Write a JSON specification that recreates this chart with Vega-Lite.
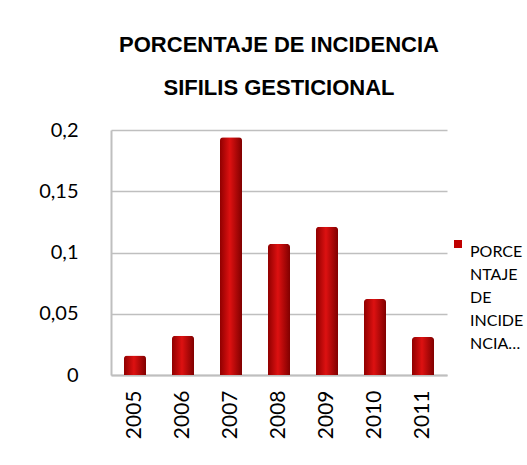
{
  "$schema": "https://vega.github.io/schema/vega-lite/v6.json",
  "autosize": {"type": "none"},
  "width": 336,
  "height": 245,
  "padding": {"left": 111, "top": 130, "right": 80, "bottom": 90},
  "background": "white",
  "title": {
    "text": ["PORCENTAJE DE INCIDENCIA", "SIFILIS GESTICIONAL"],
    "font": "Liberation Sans",
    "fontSize": 22,
    "fontWeight": "bold",
    "color": "#000000",
    "lineHeight": 43,
    "anchor": "middle",
    "offset": 20
  },
  "data": {
    "values": [
      {"anio": "2005", "valor": 0.016, "serie": "PORCENTAJE DE INCIDENCIA"},
      {"anio": "2006", "valor": 0.032, "serie": "PORCENTAJE DE INCIDENCIA"},
      {"anio": "2007", "valor": 0.194, "serie": "PORCENTAJE DE INCIDENCIA"},
      {"anio": "2008", "valor": 0.107, "serie": "PORCENTAJE DE INCIDENCIA"},
      {"anio": "2009", "valor": 0.121, "serie": "PORCENTAJE DE INCIDENCIA"},
      {"anio": "2010", "valor": 0.062, "serie": "PORCENTAJE DE INCIDENCIA"},
      {"anio": "2011", "valor": 0.031, "serie": "PORCENTAJE DE INCIDENCIA"}
    ]
  },
  "mark": {
    "type": "bar",
    "size": 22,
    "cornerRadiusTopLeft": 3,
    "cornerRadiusTopRight": 3,
    "fill": {
      "gradient": "linear",
      "x1": 0, "y1": 0, "x2": 1, "y2": 0,
      "stops": [
        {"offset": 0, "color": "#900000"},
        {"offset": 0.45, "color": "#dd1111"},
        {"offset": 1, "color": "#800000"}
      ]
    }
  },
  "encoding": {
    "x": {
      "field": "anio",
      "type": "nominal",
      "scale": {"paddingInner": 0.3, "paddingOuter": 0.15},
      "axis": {
        "title": null,
        "labelAngle": -90,
        "labelFont": "Lato",
        "labelFontSize": 21,
        "labelColor": "#000000",
        "labelPadding": 15,
        "ticks": false,
        "domainColor": "#bfbfbf",
        "domainWidth": 2
      }
    },
    "y": {
      "field": "valor",
      "type": "quantitative",
      "scale": {"domain": [0, 0.2]},
      "axis": {
        "title": null,
        "values": [0, 0.05, 0.1, 0.15, 0.2],
        "format": "~g",
        "labelExpr": "replace(datum.label, '.', ',')",
        "labelFont": "Lato",
        "labelFontSize": 20,
        "labelColor": "#000000",
        "labelPadding": 33,
        "ticks": false,
        "domainColor": "#bfbfbf",
        "domainWidth": 2,
        "gridColor": "#bfbfbf",
        "gridWidth": 1.5
      }
    },
    "color": {
      "field": "serie",
      "type": "nominal",
      "scale": {"range": ["#c00000"]},
      "legend": {
        "title": null,
        "orient": "none",
        "legendX": 339,
        "legendY": 106,
        "symbolType": "square",
        "symbolSize": 64,
        "labelFont": "Lato",
        "labelFontSize": 16,
        "labelColor": "#000000",
        "labelBaseline": "top",
        "labelOffset": 4,
        "labelLimit": 100,
        "labelExpr": "['PORCE', 'NTAJE', 'DE', 'INCIDE', 'NCIA…']"
      }
    }
  },
  "config": {
    "view": {"stroke": null},
    "style": {"guide-label": {"lineHeight": 23}}
  }
}
